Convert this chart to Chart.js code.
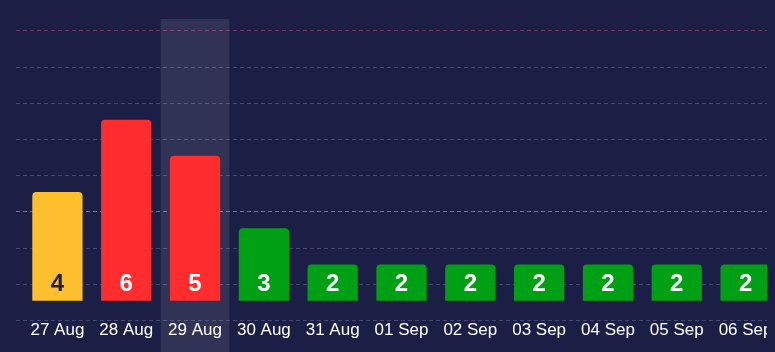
<!DOCTYPE html>
<html>
<head>
<meta charset="utf-8">
<script src="https://cdn.jsdelivr.net/npm/chart.js@4.4.1/dist/chart.umd.min.js"></script>
<style>
  html, body { margin: 0; padding: 0; background: #1c1f45; }
  .wrap { width: 767px; height: 352px; overflow: hidden; }
  .inner { width: 780px; height: 352px; }
</style>
</head>
<body>
<div class="wrap"><div class="inner"><canvas id="chart"></canvas></div></div>
<script>
const days = ["27 Aug", "28 Aug", "29 Aug", "30 Aug", "31 Aug", "01 Sep", "02 Sep", "03 Sep", "04 Sep", "05 Sep", "06 Sep"];
const counts = [4, 6, 5, 3, 2, 2, 2, 2, 2, 2, 2];
const gridLevels = [0.45, 1.45, 2.45, 3.45, 4.45, 5.45, 6.45, 7.45, 8.45];
const activeDay = 2;

function barColor(v) {
  if (v >= 5) return "#ff2d2d";
  if (v >= 4) return "#fdbf2d";
  return "#00a014";
}

function gridColor(v) {
  if (v < 3) return "rgba(150, 155, 200, 0.35)";
  if (v < 4) return "rgba(255, 200, 140, 0.5)";
  return "rgba(255, 70, 150, 0.42)";
}

// column highlight behind the hovered day
const highlight = {
  id: "highlight",
  beforeDatasetsDraw(chart) {
    const x = chart.scales.x;
    const w = (x.right - x.left) / days.length;
    const cx = x.getPixelForValue(activeDay);
    const c = chart.ctx;
    c.save();
    c.fillStyle = "rgba(255, 255, 255, 0.09)";
    c.fillRect(cx - w / 2, chart.chartArea.top, w, chart.height - chart.chartArea.top);
    c.restore();
  },
};

// value written at the bottom of each bar
const barLabels = {
  id: "barLabels",
  afterDatasetsDraw(chart) {
    const c = chart.ctx;
    const meta = chart.getDatasetMeta(0);
    c.save();
    c.font = "bold 24px 'Liberation Sans', Arial, sans-serif";
    c.textAlign = "center";
    c.textBaseline = "middle";
    meta.data.forEach((bar, i) => {
      c.fillStyle = counts[i] === 4 ? "#1c1f45" : "#ffffff";
      c.fillText(counts[i], bar.x, bar.base - 16);
    });
    c.restore();
  },
};

const chart = new Chart(document.getElementById("chart"), {
  type: "bar",
  plugins: [highlight, barLabels],
  data: {
    labels: days,
    datasets: [
      {
        data: counts,
        base: 1,
        backgroundColor: counts.map(barColor),
        borderRadius: { topLeft: 4, topRight: 4 },
        borderSkipped: "bottom",
        barPercentage: 0.73,
        categoryPercentage: 1,
      },
    ],
  },
  options: {
    responsive: true,
    maintainAspectRatio: false,
    animation: false,
    layout: {
      padding: { left: 16, top: 19, right: 0, bottom: 11 },
    },
    plugins: {
      legend: { display: false },
      tooltip: { enabled: false },
    },
    scales: {
      x: {
        grid: { display: false, drawTicks: false },
        border: { display: false },
        ticks: {
          color: "#ffffff",
          padding: 0,
          maxRotation: 0,
          autoSkip: false,
          font: { family: "'Liberation Sans', Arial, sans-serif", size: 17 },
        },
      },
      y: {
        min: 0.45,
        max: 8.78,
        afterBuildTicks: (axis) => {
          axis.ticks = gridLevels.map((v) => ({ value: v }));
        },
        border: { display: false, dash: [4, 3] },
        grid: {
          color: gridLevels.map(gridColor),
          tickColor: gridLevels.map(gridColor),
          tickBorderDash: [4, 3],
          tickLength: 7,
          lineWidth: 1,
        },
        ticks: { display: false },
      },
    },
  },
});
</script>
</body>
</html>
